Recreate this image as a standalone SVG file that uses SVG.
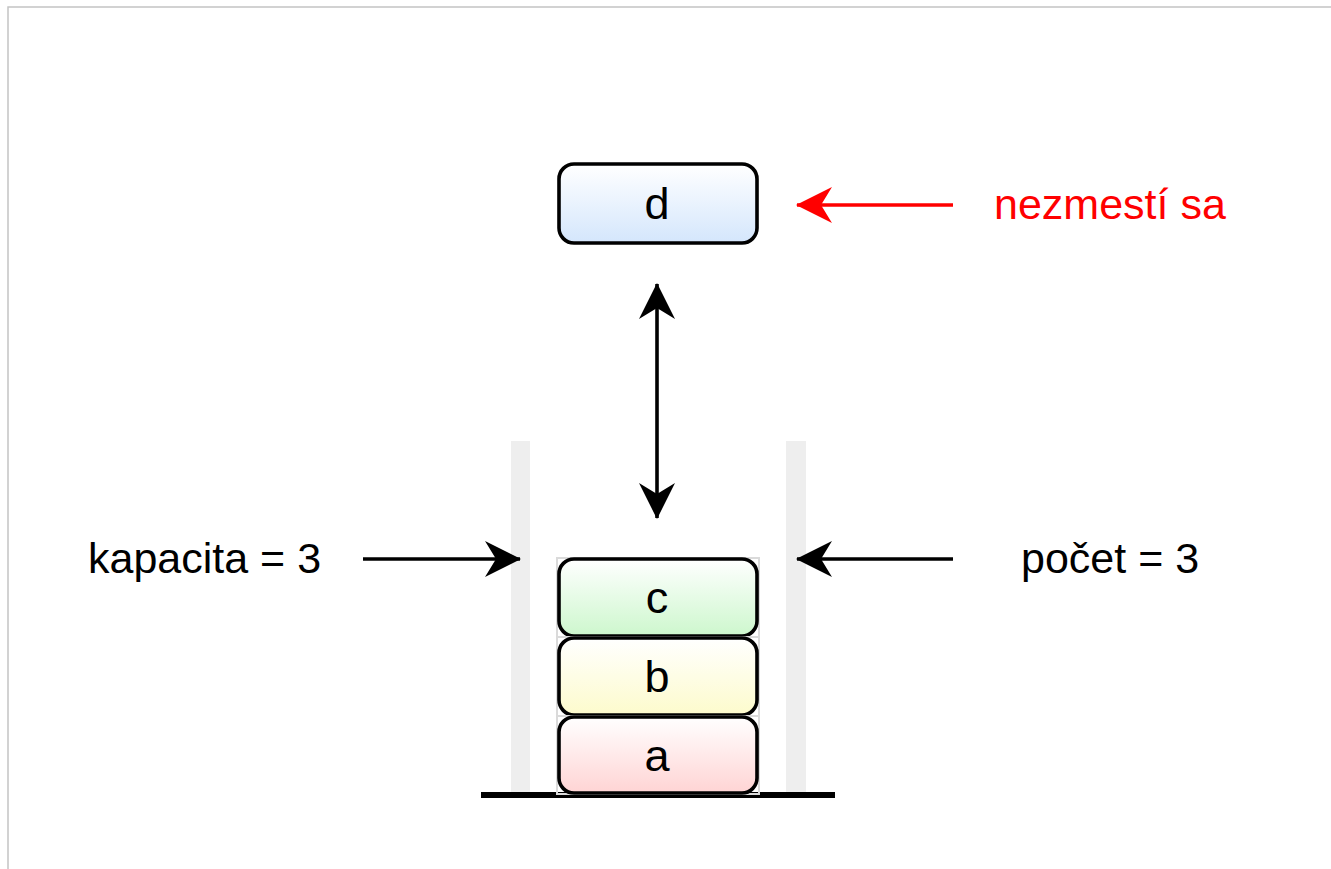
<svg xmlns="http://www.w3.org/2000/svg" width="1331" height="869" viewBox="0 0 1331 869">
<style>
.box{stroke:#000;stroke-width:3.6}
.lbl{font-family:"Liberation Sans",Arial,sans-serif;font-size:45px;text-anchor:middle}
.side{font-family:"Liberation Sans",Arial,sans-serif;font-size:43px}
.conn{fill:none;stroke-width:3.6}
.ghost{fill:none;stroke:#dadada;stroke-width:2}
</style>
<defs>
<linearGradient id="gBlue" x1="0" y1="0" x2="0" y2="1"><stop offset="0" stop-color="#ffffff"/><stop offset="1" stop-color="#d4e6fc"/></linearGradient>
<linearGradient id="gGreen" x1="0" y1="0" x2="0" y2="1"><stop offset="0" stop-color="#ffffff"/><stop offset="1" stop-color="#cdf7cd"/></linearGradient>
<linearGradient id="gYellow" x1="0" y1="0" x2="0" y2="1"><stop offset="0" stop-color="#ffffff"/><stop offset="1" stop-color="#fdfbcc"/></linearGradient>
<linearGradient id="gRed" x1="0" y1="0" x2="0" y2="1"><stop offset="0" stop-color="#ffffff"/><stop offset="1" stop-color="#ffd4d4"/></linearGradient>
<marker id="ah" viewBox="0 0 36 36" refX="35" refY="18" markerWidth="36" markerHeight="36" markerUnits="userSpaceOnUse" orient="auto-start-reverse"><path d="M0,0 L36,18 L0,36 L11,18 Z" fill="#000"/></marker>
<marker id="ahr" viewBox="0 0 36 36" refX="35" refY="18" markerWidth="36" markerHeight="36" markerUnits="userSpaceOnUse" orient="auto"><path d="M0,0 L36,18 L0,36 L11,18 Z" fill="#ff0000"/></marker>
</defs>
<rect width="1331" height="869" fill="#fff"/>
<path d="M8,869 V7 H1331" fill="none" stroke="#c4c4c4" stroke-width="1.5"/>

<g id="container">
<rect x="511" y="441" width="19" height="355" fill="#eeeeee"/>
<rect x="786" y="441" width="20" height="355" fill="#eeeeee"/>
<rect x="481" y="792" width="354" height="6" fill="#000"/>
</g>

<g id="node-d">
<rect class="box" x="559" y="164" width="198" height="79" rx="15" fill="url(#gBlue)"/>
<text class="lbl" x="657" y="219">d</text>
</g>
<g id="node-c">
<rect class="ghost" x="557" y="558" width="202" height="79"/>
<rect class="box" x="559" y="559" width="198" height="77" rx="15" fill="url(#gGreen)"/>
<text class="lbl" x="657" y="613">c</text>
</g>
<g id="node-b">
<rect class="ghost" x="557" y="637" width="202" height="79"/>
<rect class="box" x="559" y="638" width="198" height="77" rx="15" fill="url(#gYellow)"/>
<text class="lbl" x="657" y="692">b</text>
</g>
<g id="node-a">
<rect class="ghost" x="557" y="716" width="202" height="78"/>
<rect class="box" x="559" y="717" width="198" height="76" rx="15" fill="url(#gRed)"/>
<text class="lbl" x="657" y="771">a</text>
</g>

<g id="connectors">
<line class="conn" stroke="#000" x1="657" y1="284" x2="657" y2="518" marker-start="url(#ah)" marker-end="url(#ah)"/>
<line class="conn" stroke="#000" x1="363" y1="559" x2="520" y2="559" marker-end="url(#ah)"/>
<line class="conn" stroke="#000" x1="953" y1="559" x2="797" y2="559" marker-end="url(#ah)"/>
<line class="conn" stroke="#ff0000" x1="953" y1="205" x2="797" y2="205" marker-end="url(#ahr)"/>
</g>

<g id="labels">
<text class="side" x="88" y="573">kapacita = 3</text>
<text class="side" x="1021" y="573">počet = 3</text>
<text class="side" x="994" y="219" fill="#ff0000">nezmestí sa</text>
</g>
</svg>
